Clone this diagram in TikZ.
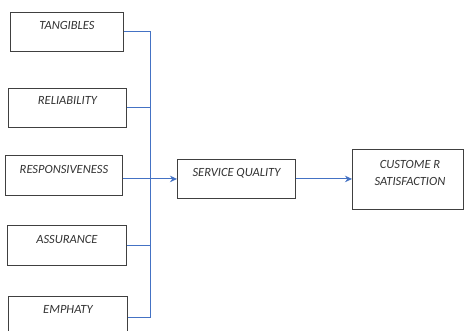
\documentclass[tikz,border=0pt]{standalone}
\usepackage{fontspec}
\newfontfamily\carlito{Carlito}
\usetikzlibrary{arrows.meta}
\definecolor{linkblue}{HTML}{4472C4}
\definecolor{boxgray}{HTML}{404040}
\tikzset{
  box/.style={draw=boxgray, line width=0.9pt, anchor=north west, inner xsep=0pt, inner ysep=0pt,
    align=center, font=\carlito\itshape\fontsize{12.5}{17}\selectfont, text=black!80},
  link/.style={draw=linkblue, line width=1pt},
  arrowlink/.style={link, -{Stealth[length=7pt,width=6.5pt]}}
}
\begin{document}
\begin{tikzpicture}[x=1pt,y=-1pt]
\clip (0,0) rectangle (466,330);
\fill[white] (0,0) rectangle (466,330);
\node[box, minimum width=113pt, text height=17.5pt, text depth=21.5pt] (tang) at (10,12) {TANGIBLES};
\node[box, minimum width=118pt, text height=16.5pt, text depth=22.5pt] (reli) at (8,88) {RELIABILITY};
\node[box, minimum width=117pt, text height=18.5pt, text depth=21.5pt] (resp) at (5,155) {RESPONSIVENESS};
\node[box, minimum width=119pt, text height=18.5pt, text depth=21.5pt] (assur) at (7,225) {ASSURANCE};
\node[box, minimum width=119pt, text height=17.5pt, text depth=25pt] (emph) at (8,296) {EMPHATY};
\node[box, minimum width=118pt, text height=17.5pt, text depth=21.5pt] (sq) at (177,159) {SERVICE QUALITY};
\node[box, minimum width=111pt, minimum height=60pt] (cs) at (352,149) {};
\node[align=center, inner sep=0pt, font=\carlito\itshape\fontsize{12.5}{17}\selectfont, text=black!80] (cstext) at (410,172.5) {CUSTOME R\\SATISFACTION};
\coordinate (bustop) at (150,32);
\coordinate (busbot) at (150,317);
\draw[link] (tang.east) -- (tang.east -| bustop) -- (busbot) -- (emph.east |- busbot);
\draw[link] (reli.east) -- (reli.east -| bustop);
\draw[link] (assur.east) -- (assur.east -| bustop);
\draw[arrowlink] (resp.east |- sq.west) -- (sq.west);
\draw[arrowlink] (sq.east) -- (cs.west |- sq.east);
\end{tikzpicture}
\end{document}
